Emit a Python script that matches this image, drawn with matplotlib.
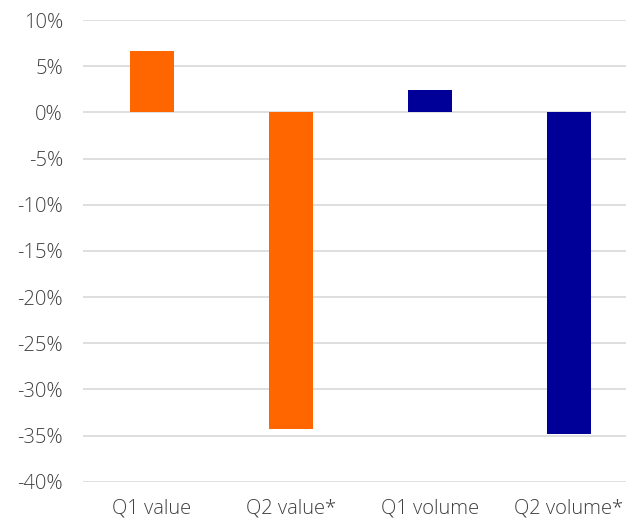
import matplotlib
matplotlib.use("Agg")
import matplotlib.pyplot as plt
from matplotlib.ticker import FuncFormatter

categories = ["Q1 value", "Q2 value*", "Q1 volume", "Q2 volume*"]
changes = [6.6, -34.3, 2.4, -34.8]
bar_colors = ["#FF6600", "#FF6600", "#000099", "#000099"]
y_ticks = [10, 5, 0, -5, -10, -15, -20, -25, -30, -35, -40]

plt.rcParams["font.family"] = ["Open Sans", "DejaVu Sans"]

fig = plt.figure(figsize=(6.26, 5.18), dpi=100)
left_px, right_px = 82.5, 626
top_px, bottom_px = 20, 481.7
W, H = 626, 518
ax = fig.add_axes([left_px / W, 1 - bottom_px / H,
                   (right_px - left_px) / W, (bottom_px - top_px) / H])

slot = 139.0
x = list(range(len(categories)))
ax.bar(x, changes, width=44 / slot, color=bar_colors, zorder=3)

ax.set_xlim(-0.5, -0.5 + (right_px - left_px) / slot)
ax.set_ylim(-40, 10)
ax.set_yticks(y_ticks)
ax.yaxis.set_major_formatter(FuncFormatter(lambda v, p: f"{v:.0f}%"))
ax.set_xticks(x)
ax.set_xticklabels(categories)

ax.grid(axis="y", color="#d9d9d9", linewidth=1.2, zorder=0)
ax.tick_params(axis="both", length=0, labelsize=14.5, colors="#404040")
for lbl in ax.get_xticklabels() + ax.get_yticklabels():
    lbl.set_fontweight("light")
ax.tick_params(axis="y", pad=14)
ax.tick_params(axis="x", pad=12)
for s in ax.spines.values():
    s.set_visible(False)

fig.savefig("out.png", dpi=100)
